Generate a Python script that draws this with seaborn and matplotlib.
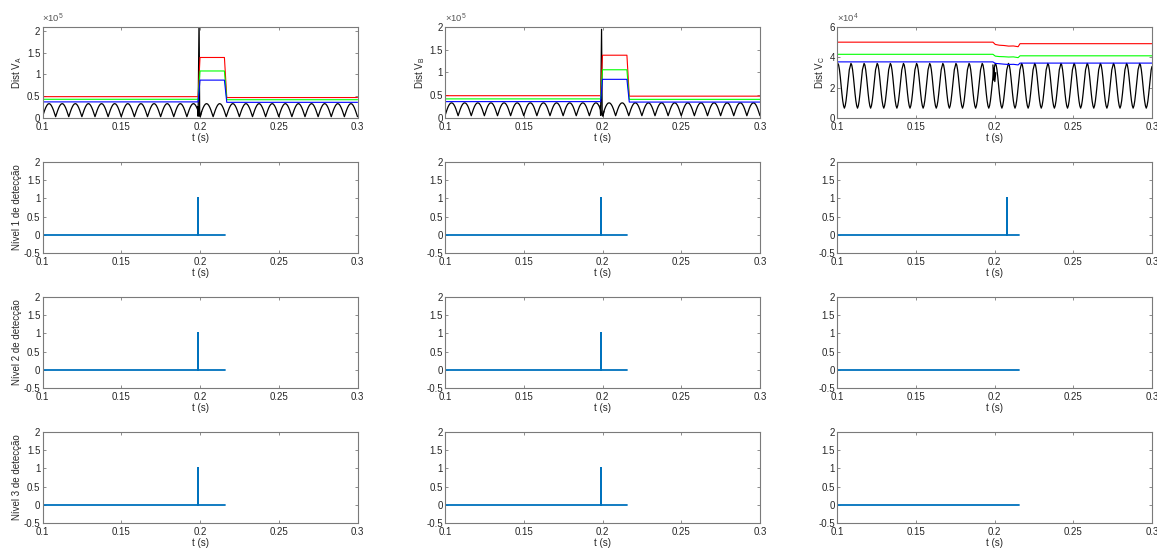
import numpy as np
import pandas as pd
import matplotlib
matplotlib.use("Agg")
import matplotlib.pyplot as plt
import seaborn as sns

# ---------------- data ----------------
# fundamental ripple period of the distance signals (s)
ripple_period = 1.0 / 120.0
n_cycles = 24
t_start = 0.1

# one ripple cycle of the black "distance" trace (x1e4), trough to trough
cycle_A = [0.30, 1.08, 1.80, 2.42, 2.90, 3.20, 3.30, 3.20, 2.90, 2.42, 1.80, 1.08]
cycle_B = [0.50, 1.25, 1.95, 2.55, 2.98, 3.25, 3.33, 3.25, 2.98, 2.55, 1.95, 1.25]
cycle_C = [3.40, 3.60, 3.49, 3.18, 2.71, 2.15, 1.60, 1.13, 0.81, 0.65, 0.81, 1.13,
           1.60, 2.15, 2.71, 3.18]

# fault transient on the black trace (t in s, value x1e4)
spike_t_A = [0.1985, 0.1988, 0.1994, 0.1998, 0.2003, 0.2010]
spike_v_A = [2.60, 0.40, 23.0, 0.60, 0.40, 1.50]
spike_t_B = [0.1985, 0.1988, 0.1994, 0.1998, 0.2003, 0.2010]
spike_v_B = [2.70, 0.60, 19.5, 0.60, 0.40, 1.50]
spike_t_C = [0.1990, 0.1994, 0.1998, 0.2002, 0.2008]
spike_v_C = [3.50, 2.50, 3.30, 2.40, 3.00]

# threshold levels (x1e5) for A and B
step_t_AB = [0.1000, 0.1988, 0.2000, 0.2155, 0.2170, 0.3000]
red_A = [0.49, 0.49, 1.39, 1.39, 0.47, 0.47]
green_A = [0.43, 0.43, 1.08, 1.08, 0.42, 0.42]
blue_A = [0.37, 0.37, 0.87, 0.87, 0.36, 0.36]
red_B = [0.49, 0.49, 1.38, 1.38, 0.48, 0.48]
green_B = [0.42, 0.42, 1.06, 1.06, 0.41, 0.41]
blue_B = [0.36, 0.36, 0.85, 0.85, 0.35, 0.35]

# threshold levels (x1e4) for C
step_t_C = [0.1000, 0.1990, 0.2005, 0.2030, 0.2060, 0.2090, 0.2120, 0.2150, 0.2162, 0.3000]
red_C = [5.00, 5.00, 4.85, 4.80, 4.78, 4.74, 4.75, 4.70, 4.90, 4.90]
green_C = [4.20, 4.20, 4.08, 4.05, 4.04, 4.02, 4.03, 3.98, 4.10, 4.10]
blue_C = [3.70, 3.70, 3.60, 3.58, 3.55, 3.53, 3.54, 3.50, 3.62, 3.62]

# detection flags per level (columns A, B, C)
det_end = 0.2158
trip_time = {"A": [0.199, 0.199, 0.199],
             "B": [0.199, 0.199, 0.199],
             "C": [0.208, None, None]}

phases = ["A", "B", "C"]
dist_scale = {"A": 1e5, "B": 1e5, "C": 1e4}
dist_ylim = {"A": 2.09, "B": 2.0, "C": 6.0}
dist_yticks = {"A": [0, 0.5, 1, 1.5, 2], "B": [0, 0.5, 1, 1.5, 2], "C": [0, 2, 4, 6]}
dist_yticklabels = {"A": ["0", "0.5", "1", "1.5", "2"], "B": ["0", "0.5", "1", "1.5", "2"],
                    "C": ["0", "2", "4", "6"]}
xticks = [0.1, 0.15, 0.2, 0.25, 0.3]
xticklabels = ["0.1", "0.15", "0.2", "0.25", "0.3"]
det_yticks = [-0.5, 0, 0.5, 1, 1.5, 2]
det_yticklabels = ["-0.5", "0", "0.5", "1", "1.5", "2"]


def ripple(cycle):
    n = len(cycle)
    vals = np.append(np.tile(cycle, n_cycles), cycle[0])
    t = t_start + np.arange(len(vals)) * ripple_period / n
    return t, vals


# ---------------- style ----------------
sns.set_theme(style="white")
frame = "#7a7a7a"
txt = "#262626"
plt.rcParams.update({
    "font.family": ["Liberation Sans", "DejaVu Sans"],
    "mathtext.fontset": "custom",
    "mathtext.rm": "Liberation Sans",
    "axes.edgecolor": frame,
    "axes.linewidth": 0.8,
    "xtick.direction": "in", "ytick.direction": "in",
    "xtick.top": True, "ytick.right": True,
    "xtick.bottom": True, "ytick.left": True,
    "xtick.major.size": 2.5, "ytick.major.size": 2.5,
    "xtick.major.width": 0.6, "ytick.major.width": 0.6,
    "xtick.color": frame, "ytick.color": frame,
    "xtick.labelcolor": txt, "ytick.labelcolor": txt,
    "xtick.labelsize": 7, "ytick.labelsize": 7,
    "xtick.major.pad": 3.0, "ytick.major.pad": 1.5,
    "axes.labelsize": 7, "axes.labelcolor": txt,
})

W, H = 1157, 549
fig = plt.figure(figsize=(W / 100, H / 100), dpi=100)

col_left = [42.5, 445, 837]
col_w = 315
row_top = [27, 162, 297, 432]
row_h = 91

axes = [[None] * 3 for _ in range(4)]
for r in range(4):
    for c in range(3):
        axes[r][c] = fig.add_axes([col_left[c] / W, 1 - (row_top[r] + row_h) / H,
                                   col_w / W, row_h / H])

line_col = {"red": "#ff0000", "green": "#00ff00", "blue": "#0000ff", "black": "#000000"}
det_color = "#0072bd"
cycles = {"A": cycle_A, "B": cycle_B, "C": cycle_C}
spikes = {"A": (spike_t_A, spike_v_A), "B": (spike_t_B, spike_v_B), "C": (spike_t_C, spike_v_C)}
levels = {"A": (step_t_AB, red_A, green_A, blue_A),
          "B": (step_t_AB, red_B, green_B, blue_B),
          "C": (step_t_C, red_C, green_C, blue_C)}


def lp(ax, x, y, color, lw):
    df = pd.DataFrame({"t": x, "v": y})
    sns.lineplot(data=df, x="t", y="v", ax=ax, color=color, linewidth=lw,
                 estimator=None, sort=False, legend=False)


for c, ph in enumerate(phases):
    ax = axes[0][c]
    st, rv, gv, bv = levels[ph]
    # black trace values are in x1e4, convert to the panel's scale
    conv = 1e4 / dist_scale[ph]
    tb, vb = ripple(cycles[ph])
    lp(ax, tb, vb * conv, line_col["black"], 0.9)
    sx, sy = spikes[ph]
    lp(ax, sx, np.array(sy) * conv, line_col["black"], 0.9)
    lp(ax, st, rv, line_col["red"], 0.8)
    lp(ax, st, gv, line_col["green"], 0.8)
    lp(ax, st, bv, line_col["blue"], 0.8)
    ax.set_xlim(0.1, 0.3)
    ax.set_ylim(0, dist_ylim[ph])
    ax.set_yticks(dist_yticks[ph])
    ax.set_yticklabels(dist_yticklabels[ph])
    ax.set_ylabel("Dist V$_{\\mathregular{%s}}$" % ph, labelpad=2)
    exp = 5 if ph != "C" else 4
    ax.annotate("×10$^{\\mathregular{%d}}$" % exp, xy=(0, 1), xycoords="axes fraction",
                xytext=(0, 1.5), textcoords="offset points", ha="left", va="bottom",
                fontsize=6.8, color="#555555")

    for r in range(3):
        axd = axes[r + 1][c]
        tt = trip_time[ph][r]
        if tt is None:
            dx, dy = [0.1, det_end], [0, 0]
        else:
            dx, dy = [0.1, tt, tt, tt, det_end], [0, 0, 1, 0, 0]
        lp(axd, dx, dy, det_color, 1.3)
        axd.set_ylim(-0.5, 2)
        axd.set_yticks(det_yticks)
        axd.set_yticklabels(det_yticklabels)
        axd.set_xlim(0.1, 0.3)
        axd.set_ylabel("Nível %d de detecção" % (r + 1) if c == 0 else "", labelpad=1.5)

for r in range(4):
    for c in range(3):
        ax = axes[r][c]
        ax.set_xticks(xticks)
        ax.set_xticklabels(xticklabels)
        ax.set_xlabel("t (s)", labelpad=0.8)
        for s in ax.spines.values():
            s.set_visible(True)
            s.set_color(frame)

fig.savefig("out.png", dpi=100, facecolor="white")
